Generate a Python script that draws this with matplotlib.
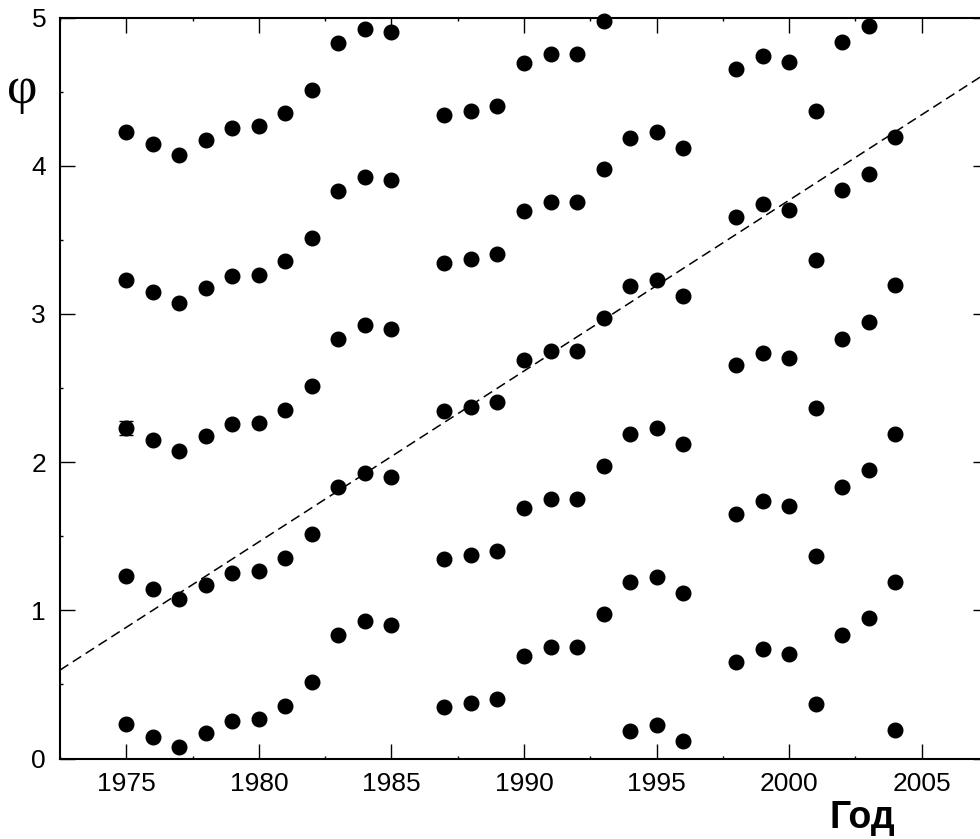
import numpy as np
import matplotlib.pyplot as plt

# phase values (mod 1), repeated with integer shifts
years = [1975, 1976, 1977, 1978, 1979, 1980, 1981, 1982, 1983, 1984, 1985,
         1987, 1988, 1989, 1990, 1991, 1992, 1993, 1994, 1995, 1996,
         1998, 1999, 2000, 2001, 2002, 2003, 2004]
phase = [0.23, 0.147, 0.075, 0.174, 0.255, 0.265, 0.354, 0.514, 0.831, 0.926, 0.901,
         0.345, 0.372, 0.403, 0.692, 0.752, 0.752, 0.975, 0.188, 0.228, 0.12,
         0.653, 0.739, 0.703, 0.366, 0.833, 0.946, 0.192]
shifts = [0, 1, 2, 3, 4]

# single error bar
err_year = 1975
err_val = 2.23
err_size = 0.05

# dashed trend line
trend_x = [1972.5, 2007.5]
trend_y = [0.597, 0.597 + 0.1153 * 35]

plt.rcParams['font.family'] = ['Liberation Sans', 'DejaVu Sans']

fig = plt.figure(figsize=(9.8, 8.39), dpi=100)
ax = fig.add_axes([0.0612, 0.0959, 0.947, 0.8832])

x = np.array(years)
p = np.array(phase)
for s in shifts:
	y = p + s
	m = y <= 5
	ax.plot(x[m], y[m], 'o', color='black', ms=10.5, clip_on=False, zorder=3)

ax.errorbar([err_year], [err_val], yerr=[err_size], fmt='none', ecolor='black',
	elinewidth=1, capsize=5, capthick=1, zorder=2)

ax.plot(trend_x, trend_y, color='black', lw=1.1, dashes=(6.5, 3.5), zorder=1)

ax.set_xlim(1972.5, 2007.5)
ax.set_ylim(0, 5)
ax.set_xticks([1975, 1980, 1985, 1990, 1995, 2000, 2005])
ax.set_xticks(np.arange(1972.5, 2008, 2.5), minor=True)
ax.set_yticks([0, 1, 2, 3, 4, 5])
ax.set_yticks(np.arange(0, 5.01, 0.5), minor=True)

ax.tick_params(which='both', direction='in', top=True, right=True, labelsize=19, width=1)
ax.tick_params(which='major', length=11, pad=10)
ax.tick_params(which='minor', length=2)
for sp in ax.spines.values():
	sp.set_linewidth(1.5)

fig.text(862 / 980, 1 - 828 / 839, 'Год', fontsize=27, fontweight='bold',
	ha='center', va='baseline')
fig.text(22 / 980, 1 - 90 / 839, 'φ', fontsize=38, family=['Liberation Serif', 'DejaVu Serif'],
	ha='center', va='center')

fig.savefig('out.png', dpi=100)
